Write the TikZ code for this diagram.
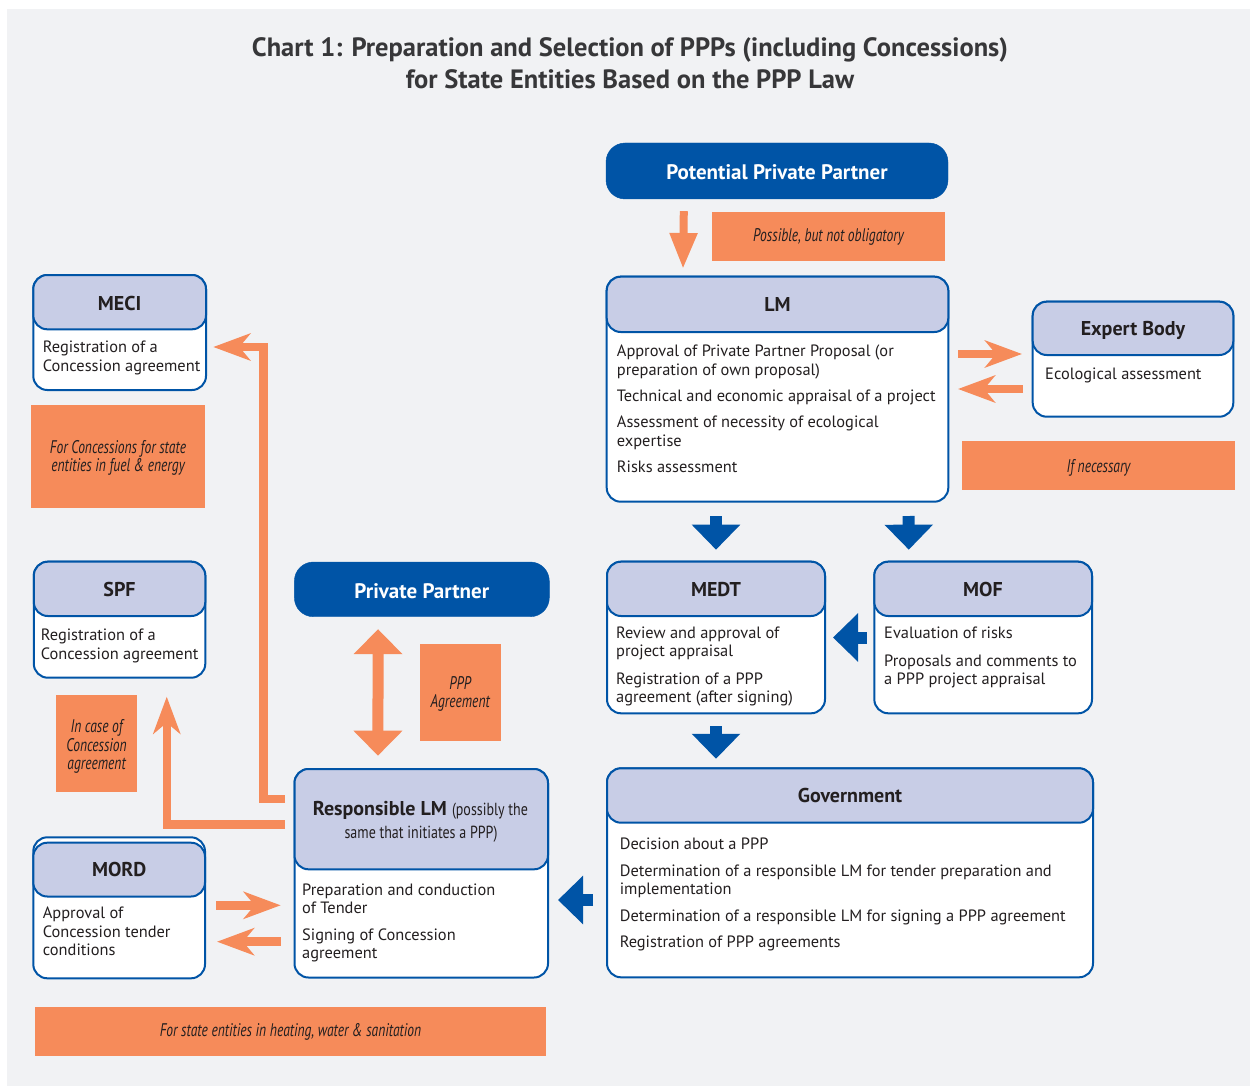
\documentclass[tikz,border=0pt]{standalone}
\usepackage{fontspec}
\setmainfont{PT Sans}
\newfontfamily\condfont[FakeStretch=0.8]{PT Sans}
\newfontfamily\lblcond[FakeStretch=0.74]{PT Sans}
\usetikzlibrary{arrows.meta,calc,fit}
\definecolor{bgc}{RGB}{241,242,244}
\definecolor{blu}{RGB}{0,84,166}
\definecolor{hdr}{RGB}{200,205,230}
\definecolor{org}{RGB}{246,139,90}
\definecolor{txt}{RGB}{35,31,32}
\definecolor{ttlc}{RGB}{55,55,57}
\newcommand\bodyfont{\fontsize{16.4}{18.5}\selectfont}
\newcommand\hfont{\fontsize{20}{22}\selectfont\bfseries}
\newcommand\lblfont{\lblcond\itshape\fontsize{18.3}{18.5}\selectfont}
\newcommand\crfont{\condfont\fontsize{17.5}{18.5}\selectfont}
\newcounter{tln}
\newcommand\bodyline[3]{\stepcounter{tln}\node[bodytxt] (t\arabic{tln}) at (#1,#2) {#3};}
\newcommand\lblline[3]{\stepcounter{tln}\node[lbltxt] (t\arabic{tln}) at (#1,#2) {#3};}
\tikzset{
  outer/.style={draw=blu, line width=2pt, fill=white, rounded corners=14pt, inner sep=0pt},
  head/.style={draw=blu, line width=2pt, fill=hdr, rounded corners=14pt, inner sep=0pt},
  solidbox/.style={draw=blu, fill=blu, rounded corners=19pt, inner sep=0pt},
  lblbox/.style={fill=org, inner sep=0pt},
  bodytxt/.style={font=\bodyfont, text=txt, inner sep=0pt, anchor=base west},
  htxt/.style={font=\hfont, text=txt, inner sep=0pt, anchor=base},
  wtxt/.style={font=\fontsize{21}{23}\selectfont\bfseries, text=white, inner sep=0pt, anchor=base},
  lbltxt/.style={font=\lblfont, text=txt, inner sep=0pt, anchor=base},
  ttltxt/.style={font=\fontsize{26.5}{28}\selectfont\bfseries, text=ttlc, inner sep=0pt, anchor=base},
  oarr/.style={draw=org, line width=8.5pt, -{Stealth[length=37pt,width=27pt,inset=11pt]}},
  otri/.style={draw=org, line width=8pt, -{Triangle[length=36pt,width=26pt]}},
  odbl/.style={draw=org, line width=11pt, {Triangle[length=25pt,width=47.5pt]}-{Triangle[length=25pt,width=47.5pt]}},
  barr/.style={draw=blu, line width=12pt, -{Triangle[length=25pt,width=47pt]}},
}
\begin{document}
\begin{tikzpicture}[x=1pt,y=-1pt]
\useasboundingbox (0,0) rectangle (1250,1086);
\fill[white] (0,0) rectangle (1250,1086);
\fill[bgc] (7,9) rectangle (1250,1086);

% title
\node[ttltxt] (title1) at (630,56.7) {Chart 1: Preparation and Selection of PPPs (including Concessions)};
\node[ttltxt] (title2) at (630,88.3) {for State Entities Based on the PPP Law};

% solid blue boxes
\node[solidbox, fit={(606,143)(948,199)}] (ppp) {};
\node[wtxt] (pppt) at (777,180) {Potential Private Partner};
\node[solidbox, fit={(294.4,562)(549.3,616.7)}] (pp) {};
\node[wtxt] (ppt) at (421.8,598.3) {Private Partner};

% LM
\node[outer, fit={(606.7,276.7)(948.3,501.7)}] (lm) {};
\node[head, fit={(606.7,276.7)(948.3,332)}] (lmh) {};
\node[htxt] (lmt) at (777.5,311.7) {LM};
\bodyline{616.7}{356.7}{Approval of Private Partner Proposal (or}
\bodyline{616.7}{375.2}{preparation of own proposal)}
\bodyline{616.7}{401.7}{Technical and economic appraisal of a project}
\bodyline{616.7}{427.5}{Assessment of necessity of ecological}
\bodyline{616.7}{446}{expertise}
\bodyline{616.7}{472.5}{Risks assessment}

% Expert Body
\node[outer, fit={(1032.7,301.7)(1233.3,416.7)}] (eb) {};
\node[head, fit={(1032.7,301.7)(1233.3,355)}] (ebh) {};
\node[htxt] (ebt) at (1133,335) {Expert Body};
\bodyline{1045}{379.3}{Ecological assessment}

% MECI
\node[outer, fit={(33.3,275)(206,390)}] (meci) {};
\node[head, fit={(33.3,275)(206,329.3)}] (mecih) {};
\node[htxt] (mecit) at (119.6,310) {MECI};
\bodyline{42.7}{352.7}{Registration of a}
\bodyline{42.7}{371.7}{Concession agreement}

% SPF
\node[outer, fit={(33.8,561.7)(205.3,677.7)}] (spf) {};
\node[head, fit={(33.8,561.7)(205.3,616)}] (spfh) {};
\node[htxt] (spft) at (119.5,596.7) {SPF};
\bodyline{40.7}{640.7}{Registration of a}
\bodyline{40.7}{659.7}{Concession agreement}

% MORD
\node[outer, fit={(33.3,837.3)(205,978.3)}] (mord) {};
\node[head, fit={(33.3,842.7)(205,896.5)}] (mordh) {};
\node[htxt] (mordt) at (119.2,876.7) {MORD};
\bodyline{42.7}{918.3}{Approval of}
\bodyline{42.7}{937}{Concession tender}
\bodyline{42.7}{955.5}{conditions}

% MEDT
\node[outer, fit={(607,561.7)(825,713.3)}] (medt) {};
\node[head, fit={(607,561.7)(825,616)}] (medth) {};
\node[htxt] (medtt) at (716,596.7) {MEDT};
\bodyline{616}{638.3}{Review and approval of}
\bodyline{616}{656.8}{project appraisal}
\bodyline{616}{684.3}{Registration of a PPP}
\bodyline{616}{702.8}{agreement (after signing)}

% MOF
\node[outer, fit={(874.3,561.7)(1092,713.3)}] (mof) {};
\node[head, fit={(874.3,561.7)(1092,616)}] (mofh) {};
\node[htxt] (moft) at (983,596.7) {MOF};
\bodyline{884}{638.3}{Evaluation of risks}
\bodyline{884}{666.3}{Proposals and comments to}
\bodyline{884}{684.8}{a PPP project appraisal}

% Government
\node[outer, fit={(607,768.3)(1093,977.3)}] (gov) {};
\node[head, fit={(607,768.3)(1093,822.7)}] (govh) {};
\node[htxt] (govt) at (850,802.7) {Government};
\bodyline{619.6}{849.3}{Decision about a PPP}
\bodyline{619.6}{876.3}{Determination of a responsible LM for tender preparation and}
\bodyline{619.6}{894.8}{implementation}
\bodyline{619.6}{921.3}{Determination of a responsible LM for signing a PPP agreement}
\bodyline{619.6}{947.8}{Registration of PPP agreements}

% Responsible LM
\node[outer, fit={(294.5,769)(548,977.5)}] (rlm) {};
\node[head, fit={(294.5,769)(548,869.3)}] (rlmh) {};
\node[htxt, anchor=base west] (rlmt) at (312.7,815) {Responsible LM {\crfont\mdseries (possibly the}};
\node[htxt, font=\crfont] (rlmt2) at (421,838.3) {same that initiates a PPP)};
\bodyline{302}{895}{Preparation and conduction}
\bodyline{302}{913.5}{of Tender}
\bodyline{302}{940}{Signing of Concession}
\bodyline{302}{958}{agreement}

% orange labels
\node[lblbox, fit={(711.7,211.7)(945,260.7)}] (l1) {};
\lblline{828.4}{241.7}{Possible, but not obligatory}
\node[lblbox, fit={(961.7,440.7)(1235,490)}] (l2) {};
\lblline{1098.5}{472.7}{If necessary}
\node[lblbox, fit={(31,405)(205,507.7)}] (l3) {};
\lblline{118}{453.3}{For Concessions for state}
\lblline{118}{471.7}{entities in fuel \& energy}
\node[lblbox, fit={(56.2,695)(137,791.7)}] (l4) {};
\lblline{96.6}{732.5}{In case of}
\lblline{96.6}{751}{Concession}
\lblline{96.6}{769.5}{agreement}
\node[lblbox, fit={(419.5,644)(501,740.7)}] (l5) {};
\lblline{460.2}{689.3}{PPP}
\lblline{460.2}{707.8}{Agreement}
\node[lblbox, fit={(35,1007.3)(546,1055.7)}] (l6) {};
\lblline{290.5}{1036.7}{For state entities in heating, water \& sanitation}

% orange connectors
\draw[otri] ($(ppp.south west)+(78,12)$) -- ($(lm.north west)+(77.3,-6.7)$);
\draw[oarr] ($(lm.east|-0,354)+(8.7,0)$) -- ($(eb.west|-0,354)+(-9.7,0)$);
\draw[oarr] ($(eb.west|-0,389)+(-8.7,0)$) -- ($(lm.east|-0,389)+(8.7,0)$);
\coordinate (c1) at (263.3,347);
\draw[oarr] ($(rlm.west|-0,799)+(-8.5,0)$) -| (c1) -- ($(meci.east|-0,347)+(6.3,0)$);
\draw[oarr] ($(rlm.west|-0,824.5)+(-8.5,0)$) -| ($(spf.south)+(47.2,18)$);
\draw[odbl] ($(pp.south)+(-43.8,12.3)$) -- ($(rlm.north)+(-43.3,-12.3)$);
\draw[oarr] ($(mord.east|-0,905.3)+(10,0)$) -- ($(rlm.west|-0,905.3)+(-12.8,0)$);
\draw[oarr] ($(rlm.west|-0,941.7)+(-12.8,0)$) -- ($(mord.east|-0,941.7)+(11,0)$);

% blue connectors
\draw[barr] ($(lm.south-|medt.north)+(0,13.3)$) -- ($(medt.north)+(0,-11)$);
\draw[barr] ($(lm.south west)+(303,13.3)$) -- ($(mof.north west)+(35.5,-11)$);
\draw[barr] ($(mof.west)+(-6.4,0)$) -- ($(medt.east)+(7,0)$);
\draw[barr] ($(medt.south)+(0,12)$) -- ($(gov.north-|medt.south)+(0,-8.5)$);
\draw[barr] ($(gov.west|-0,900)+(-13,0)$) -- ($(rlm.east|-0,900)+(9,0)$);
\end{tikzpicture}
\end{document}
